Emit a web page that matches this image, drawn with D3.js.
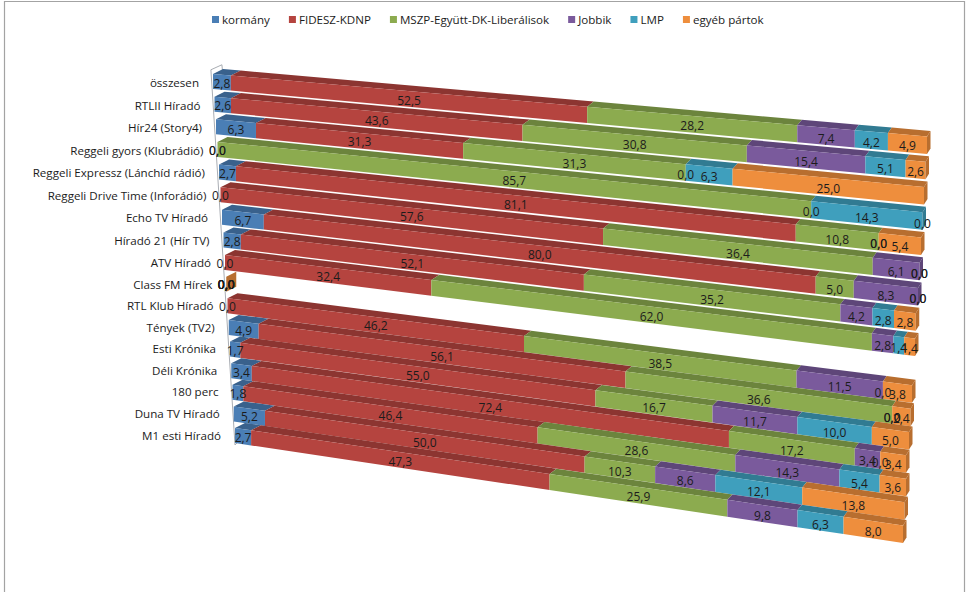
<!DOCTYPE html>
<html><head><meta charset="utf-8">
<script src="https://cdn.jsdelivr.net/npm/d3@7/dist/d3.min.js"></script>
<style>html,body{margin:0;padding:0;background:#fff}svg{display:block}text{font-family:"Open Sans",sans-serif;fill:#1c1c1c}</style>
</head><body><svg id="c" width="969" height="592"></svg>
<script>
const categories = ["összesen","RTLII Híradó","Hír24 (Story4)","Reggeli gyors (Klubrádió)","Reggeli Expressz (Lánchíd rádió)","Reggeli Drive Time  (Inforádió)","Echo TV Híradó","Híradó 21 (Hír TV)","ATV Híradó","Class FM Hírek","RTL Klub Híradó","Tények (TV2)","Esti Krónika","Déli Krónika","180 perc","Duna TV Híradó","M1 esti Híradó"];
const seriesNames = ["kormány","FIDESZ-KDNP","MSZP-Együtt-DK-Liberálisok","Jobbik","LMP","egyéb pártok"];
const kormany = [2.8,2.6,6.3,0,2.7,0,6.7,2.8,0,0,0,4.9,1.7,3.4,1.8,5.2,2.7];
const fidesz  = [52.5,43.6,31.3,0,81.1,57.6,80.0,52.1,32.4,0,46.2,56.1,55.0,72.4,46.4,50.0,47.3];
const mszp    = [28.2,30.8,31.3,85.7,10.8,36.4,5.0,35.2,62.0,0,38.5,36.6,16.7,17.2,28.6,10.3,25.9];
const jobbik  = [7.4,15.4,0,0,0,6.1,8.3,4.2,2.8,0,11.5,0,11.7,3.4,14.3,8.6,9.8];
const lmp     = [4.2,5.1,6.3,14.3,0,0,0,2.8,1.4,0,0,0,10.0,0,5.4,12.1,6.3];
const egyeb   = [4.9,2.6,25.0,0,5.4,0,0,2.8,1.4,0,3.8,2.4,5.0,3.4,3.6,13.8,8.0];
const frontColors = ["#4a7eb5","#b5443f","#8cab4f","#7a5a9c","#3f9fbd","#ee8e3d"];

const allSeries = [kormany,fidesz,mszp,jobbik,lmp,egyeb];
const table = categories.map((c,i)=>{const r={category:c,index:i};seriesNames.forEach((s,k)=>r[s]=allSeries[k][i]);return r;});
const stacked = d3.stack().keys(seriesNames)(table);

const rowDomain=[0,8,16];
const xLeft  = d3.scaleLinear().domain(rowDomain).range([213,225,235]);
const xRight = d3.scaleLinear().domain(rowDomain).range([927,915,903]);
const yLeft  = d3.scaleLinear().domain(rowDomain).range([89,270,443]);
const yRight = d3.scaleLinear().domain(rowDomain).range([154,356,543]);
const hFront = d3.scaleLinear().domain([0,1]).range([15,17.5]);
const depthX = d3.scaleLinear().domain([0,1]).range([10,3.5]);
const depthY = d3.scaleLinear().domain([0,1]).range([5,5.5]);
const share  = d3.scaleLinear().domain([0,100]).range([0,1]);
const labelDrop = d3.scaleLinear().domain([0,1]).range([1,2.5]);
const catDrop = d3.scaleLinear().domain([0,16]).range([1.5,0]);
const color  = d3.scaleOrdinal().domain(seriesNames).range(frontColors);
const persp = 0.89;
const along = v=>{const u=share(Math.min(v,100));return persp*u/(1+(persp-1)*u);};

// front-face corners at value v of row i
function P(i,v){const f=along(v);
  const x=xLeft(i)+(xRight(i)-xLeft(i))*f, yb=yLeft(i)+(yRight(i)-yLeft(i))*f, h=hFront(f);
  return {x,yb,yt:yb-h,dx:depthX(f),dy:depthY(f),f};}
const pts=a=>a.map(p=>p.join(",")).join(" ");

const svg=d3.select("#c");
// chart frame
svg.append("path").attr("d",d3.line()([[4.5,592],[4.5,1.5],[964.5,1.5],[964.5,592]])).attr("fill","none").attr("stroke","#a3a3a3").attr("stroke-width",1.2);

// legend
const legend=svg.append("g");
let lx=212;
seriesNames.forEach(s=>{
  legend.append("rect").attr("x",lx).attr("y",16).attr("width",7).attr("height",7).attr("fill",color(s));
  const t=legend.append("text").attr("x",lx+10).attr("y",24).attr("font-size",11.6).text(s);
  lx+=10+t.node().getComputedTextLength()+19;
});

// side wall
const wall=svg.append("g").attr("fill","none").attr("stroke","#a9adb3").attr("stroke-width",1);
const wy=d3.scaleLinear().domain([-0.85,16.1]).range([yLeft(-0.85),445]);
wall.append("path").attr("d",d3.line()([[xLeft(-1.4),yLeft(-0.85)],[xLeft(16),wy(16.1)],[xLeft(16)+5,wy(16.1)-5]]));
wall.append("path").attr("d",d3.line()([[xLeft(-1.4),yLeft(-0.85)],[xLeft(-1.4)+11,yLeft(-0.85)-5],[xLeft(-1.4)+12,yLeft(-0.85)+5]]));

// category labels
svg.append("g").selectAll("text").data(table).join("text")
  .attr("x",d=>xLeft(d.index)-14).attr("y",d=>yLeft(d.index)-7.5+catDrop(d.index))
  .attr("dy","0.35em").attr("text-anchor","end").attr("font-size",11.6).text(d=>d.category);

// bars, top row first so that lower rows overlap
const bars=svg.append("g");
table.forEach((row,i)=>{
  const g=bars.append("g");
  stacked.forEach(layer=>{
    const [v0,v1]=layer[i];
    if(v1-v0<=0) return;
    const c=d3.color(color(layer.key)), a=P(i,v0), b=P(i,v1);
    g.append("polygon").attr("fill",c.darker(0.72)).attr("points",pts([[a.x,a.yt],[b.x,b.yt],[b.x+b.dx,b.yt-b.dy],[a.x+a.dx,a.yt-a.dy]]));
    g.append("polygon").attr("fill",c).attr("points",pts([[a.x,a.yt],[b.x,b.yt],[b.x,b.yb],[a.x,a.yb]]));
  });
  // end cap takes the colour of the last non-empty series
  const last=seriesNames.filter(s=>row[s]>0).pop()||seriesNames[5];
  const total=d3.sum(seriesNames,s=>row[s]), e=P(i,total);
  g.append("polygon").attr("fill",d3.color(color(last)).darker(0.72))
    .attr("points",pts([[e.x,e.yt],[e.x,e.yb],[e.x+e.dx,e.yb-e.dy],[e.x+e.dx,e.yt-e.dy]]));
});

// value labels
const labels=svg.append("g");
stacked.forEach(layer=>{
  labels.selectAll(null).data(layer).join("text")
    .attr("text-anchor","middle").attr("dy","0.35em").attr("font-size",12)
    .attr("x",(d,i)=>{const a=P(i,d[0]),b=P(i,d[1]);return (a.x+b.x)/2;})
    .attr("y",(d,i)=>{const a=P(i,d[0]),b=P(i,d[1]);return (a.yb+a.yt+b.yb+b.yt)/4+labelDrop((a.f+b.f)/2);})
    .text(d=>d3.format(".1f")(d[1]-d[0]).replace(".",","));
});
</script></body></html>
